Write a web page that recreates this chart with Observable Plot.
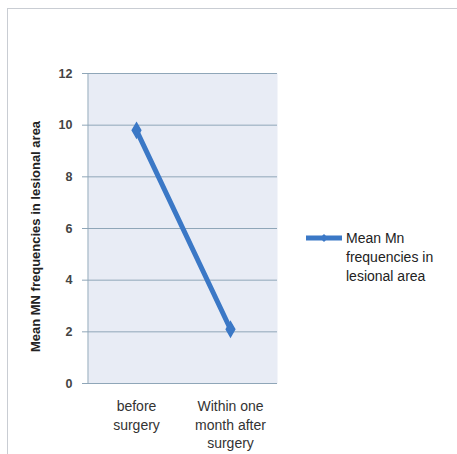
<!DOCTYPE html>
<html>
<head>
<meta charset="utf-8">
<script src="https://cdn.jsdelivr.net/npm/d3@7"></script>
<script src="https://cdn.jsdelivr.net/npm/@observablehq/plot@0.6"></script>
<style>
  html, body { margin: 0; padding: 0; background: #fff; }
  #wrap { position: relative; width: 457px; height: 454px; overflow: hidden; }
  #frame { position: absolute; left: 7px; top: 8px; width: 460px; height: 460px;
           border-left: 1.5px solid #c9cdd3; border-top: 1.5px solid #c9cdd3; }
  #legend { position: absolute; left: 305px; top: 229px; display: flex; align-items: flex-start;
            font-family: "Liberation Sans", Arial, sans-serif; font-size: 14px; color: #222; line-height: 19px; }
  #legend svg { margin-top: 2px; margin-right: 3px; }
  svg text { font-family: "Liberation Sans", Arial, sans-serif; }
</style>
</head>
<body>
<div id="wrap">
  <div id="frame"></div>
  <div id="chart"></div>
  <div id="legend"></div>
</div>
<script>
const categories = ["before\nsurgery", "Within one\nmonth after\nsurgery"];
const values = [9.8, 2.1];
const seriesName = "Mean Mn\nfrequencies in\nlesional area";
const yTicks = [0, 2, 4, 6, 8, 10, 12];
const yLabel = "Mean MN frequencies in lesional area";
const color = "#3b78c6";

const data = categories.map((c, i) => ({cat: c, v: values[i]}));

const chart = Plot.plot({
  width: 457,
  height: 454,
  marginLeft: 88,
  marginRight: 180,
  marginTop: 73,
  marginBottom: 71,
  style: {background: "transparent", fontSize: "12px", color: "#333"},
  x: {type: "point", domain: categories, padding: 0.5, label: null},
  y: {domain: [0, 12], ticks: yTicks, label: null},
  marks: [
    Plot.frame({fill: "#e8ecf5", stroke: null}),
    Plot.ruleY(yTicks, {stroke: "#8fa6b8", strokeWidth: 1}),
    Plot.axisY({ticks: yTicks, tickSize: 6, tickPadding: 10, stroke: "#8fa6b8", fontSize: 12.5, fontWeight: "bold", fill: "#444"}),
    Plot.axisX({tickSize: 0, tickPadding: 15, fontSize: 14, fill: "#333", lineHeight: 1.3}),
    Plot.text([yLabel], {frameAnchor: "left", textAnchor: "middle", dx: -53, dy: 8, rotate: -90, fontSize: 13, fontWeight: "bold", fill: "#222"}),
    Plot.line(data, {x: "cat", y: "v", stroke: color, strokeWidth: 5}),
    Plot.dot(data, {x: "cat", y: "v", symbol: "diamond", r: 4.5, fill: color, stroke: color})
  ]
});
document.getElementById("chart").append(chart);
const svg = d3.select(chart);
svg.append("line").attr("x1", 88).attr("x2", 88).attr("y1", 73).attr("y2", 383).attr("stroke", "#8fa6b8");

const lg = document.getElementById("legend");
lg.innerHTML = `<svg width="38" height="14"><line x1="1" x2="37" y1="7" y2="7" stroke="${color}" stroke-width="5"/><path d="M19,3 L23,7 L19,11 L15,7Z" fill="${color}"/></svg><div>${seriesName.replace(/\n/g, "<br>")}</div>`;
</script>
</body>
</html>
